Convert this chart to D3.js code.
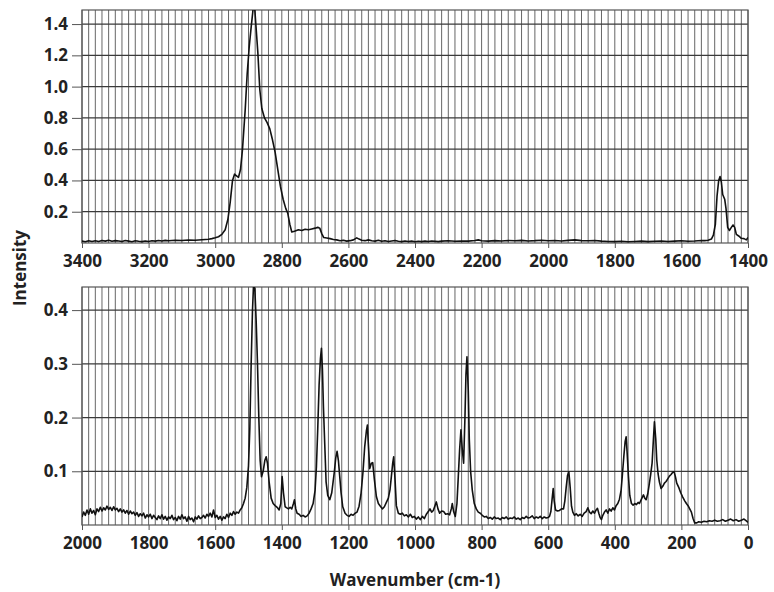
<!DOCTYPE html>
<html>
<head>
<meta charset="utf-8">
<script src="https://cdn.jsdelivr.net/npm/d3@7"></script>
<style>
    body { margin: 0; background: #fff; }
    svg { display: block; }
    .tick text { font-family: "Open Sans", sans-serif; font-weight: 700; font-size: 17px; fill: #222; }
    .label { font-family: "Open Sans", sans-serif; font-weight: 700; font-size: 17px; fill: #222; }
</style>
</head>
<body>
<svg></svg>
<script>
// tick labels for both panels
var topXTicks = [3400, 3200, 3000, 2800, 2600, 2400, 2200, 2000, 1800, 1600, 1400]
var topYTicks = [0.2, 0.4, 0.6, 0.8, 1.0, 1.2, 1.4]
var bottomXTicks = [2000, 1800, 1600, 1400, 1200, 1000, 800, 600, 400, 200, 0]
var bottomYTicks = [0.1, 0.2, 0.3, 0.4]

// upper panel: [wavenumber, intensity]
var topSpectrum = [
    [3400, 0.012], [3390, 0.008], [3380, 0.015], [3370, 0.010], [3360, 0.014], [3350, 0.009],
    [3340, 0.016], [3330, 0.012], [3320, 0.018], [3310, 0.011], [3300, 0.015], [3290, 0.013],
    [3280, 0.010], [3270, 0.016], [3260, 0.012], [3250, 0.008], [3240, 0.014], [3230, 0.011],
    [3220, 0.009], [3210, 0.013], [3200, 0.010], [3190, 0.014], [3180, 0.012], [3170, 0.016],
    [3160, 0.013], [3150, 0.017], [3140, 0.014], [3120, 0.018], [3100, 0.016], [3080, 0.019],
    [3060, 0.018], [3040, 0.021], [3020, 0.024], [3010, 0.028], [3000, 0.033], [2990, 0.040],
    [2980, 0.055], [2970, 0.085], [2962, 0.15], [2955, 0.26], [2948, 0.40], [2942, 0.44],
    [2936, 0.43], [2930, 0.42], [2924, 0.47], [2918, 0.60], [2910, 0.85], [2904, 1.08],
    [2898, 1.25], [2892, 1.38], [2886, 1.50], [2882, 1.52], [2878, 1.40], [2872, 1.22],
    [2866, 0.98], [2860, 0.86], [2852, 0.80], [2844, 0.77], [2836, 0.73], [2828, 0.66],
    [2820, 0.58], [2812, 0.47], [2804, 0.36], [2796, 0.28], [2788, 0.22], [2782, 0.19],
    [2776, 0.12], [2770, 0.07], [2762, 0.075], [2750, 0.085], [2740, 0.080], [2730, 0.088],
    [2720, 0.085], [2710, 0.090], [2700, 0.095], [2692, 0.10], [2686, 0.095], [2680, 0.06],
    [2674, 0.035], [2665, 0.032], [2655, 0.028], [2645, 0.022], [2635, 0.020], [2625, 0.014],
    [2615, 0.018], [2605, 0.012], [2595, 0.015], [2585, 0.020], [2575, 0.033], [2568, 0.025],
    [2560, 0.018], [2550, 0.015], [2540, 0.020], [2530, 0.014], [2520, 0.012], [2510, 0.017],
    [2500, 0.011], [2490, 0.014], [2480, 0.010], [2470, 0.013], [2460, 0.016], [2450, 0.011],
    [2440, 0.009], [2430, 0.013], [2420, 0.010], [2410, 0.012], [2400, 0.008], [2390, 0.011],
    [2380, 0.009], [2370, 0.012], [2360, 0.010], [2350, 0.013], [2340, 0.011], [2330, 0.009],
    [2320, 0.012], [2300, 0.014], [2280, 0.011], [2260, 0.013], [2240, 0.012], [2220, 0.016],
    [2210, 0.020], [2200, 0.014], [2180, 0.012], [2160, 0.015], [2140, 0.013], [2120, 0.016],
    [2100, 0.014], [2080, 0.017], [2060, 0.013], [2040, 0.015], [2020, 0.018], [2000, 0.014],
    [1980, 0.016], [1960, 0.013], [1940, 0.017], [1920, 0.020], [1900, 0.015], [1880, 0.014],
    [1860, 0.016], [1840, 0.012], [1820, 0.010], [1800, 0.009], [1780, 0.011], [1760, 0.008],
    [1740, 0.010], [1720, 0.012], [1700, 0.009], [1680, 0.011], [1660, 0.013], [1640, 0.010],
    [1620, 0.012], [1600, 0.014], [1580, 0.011], [1560, 0.013], [1540, 0.016], [1530, 0.015],
    [1520, 0.018], [1510, 0.025], [1504, 0.05], [1498, 0.12], [1493, 0.30], [1488, 0.40],
    [1484, 0.425], [1480, 0.39], [1476, 0.31], [1470, 0.28], [1466, 0.22], [1461, 0.10],
    [1456, 0.08], [1450, 0.10], [1445, 0.115], [1440, 0.10], [1435, 0.055], [1428, 0.045],
    [1420, 0.030], [1412, 0.028], [1405, 0.020], [1400, 0.035]
]

// lower panel: [wavenumber, intensity]
var bottomSpectrum = [
    [2000, 0.015], [1995, 0.024], [1990, 0.018], [1985, 0.028], [1980, 0.020], [1975, 0.030],
    [1970, 0.022], [1965, 0.027], [1960, 0.019], [1955, 0.030], [1950, 0.025], [1945, 0.033],
    [1940, 0.026], [1935, 0.032], [1930, 0.028], [1925, 0.035], [1920, 0.029], [1915, 0.033],
    [1910, 0.027], [1905, 0.034], [1900, 0.028], [1895, 0.031], [1890, 0.025], [1885, 0.030],
    [1880, 0.024], [1875, 0.028], [1870, 0.022], [1865, 0.027], [1860, 0.020], [1855, 0.026],
    [1850, 0.021], [1845, 0.024], [1840, 0.018], [1835, 0.023], [1830, 0.016], [1825, 0.021],
    [1820, 0.017], [1815, 0.022], [1810, 0.013], [1805, 0.019], [1800, 0.015], [1795, 0.020],
    [1790, 0.012], [1785, 0.018], [1780, 0.014], [1775, 0.010], [1770, 0.017], [1765, 0.012],
    [1760, 0.019], [1755, 0.011], [1750, 0.016], [1745, 0.009], [1740, 0.015], [1735, 0.012],
    [1730, 0.018], [1725, 0.010], [1720, 0.014], [1715, 0.008], [1710, 0.016], [1705, 0.011],
    [1700, 0.019], [1695, 0.012], [1690, 0.015], [1685, 0.007], [1680, 0.016], [1675, 0.010],
    [1670, 0.013], [1665, 0.006], [1660, 0.015], [1655, 0.011], [1650, 0.017], [1645, 0.012],
    [1640, 0.014], [1635, 0.018], [1630, 0.013], [1625, 0.020], [1620, 0.016], [1615, 0.022],
    [1610, 0.015], [1605, 0.028], [1600, 0.014], [1595, 0.018], [1590, 0.011], [1585, 0.016],
    [1580, 0.009], [1575, 0.015], [1570, 0.012], [1565, 0.020], [1560, 0.014], [1555, 0.022],
    [1550, 0.018], [1545, 0.025], [1540, 0.020], [1535, 0.024], [1530, 0.022], [1525, 0.028],
    [1520, 0.032], [1515, 0.040], [1510, 0.050], [1505, 0.070], [1500, 0.11], [1496, 0.18],
    [1492, 0.30], [1488, 0.40], [1485, 0.445], [1481, 0.44], [1477, 0.38], [1473, 0.30],
    [1469, 0.20], [1465, 0.12], [1461, 0.09], [1456, 0.10], [1451, 0.12], [1447, 0.127],
    [1443, 0.115], [1438, 0.08], [1432, 0.05], [1426, 0.04], [1420, 0.036], [1414, 0.033],
    [1408, 0.028], [1403, 0.040], [1399, 0.090], [1395, 0.06], [1390, 0.034], [1385, 0.032],
    [1380, 0.030], [1375, 0.033], [1370, 0.030], [1365, 0.040], [1362, 0.047], [1358, 0.030],
    [1354, 0.022], [1348, 0.020], [1342, 0.016], [1336, 0.018], [1330, 0.015], [1324, 0.017],
    [1318, 0.022], [1312, 0.030], [1306, 0.040], [1300, 0.065], [1296, 0.109], [1292, 0.18],
    [1288, 0.26], [1284, 0.31], [1281, 0.329], [1278, 0.29], [1275, 0.22], [1271, 0.15],
    [1267, 0.08], [1262, 0.055], [1256, 0.047], [1250, 0.060], [1246, 0.080], [1242, 0.10],
    [1238, 0.125], [1234, 0.137], [1230, 0.120], [1226, 0.090], [1222, 0.06], [1217, 0.034],
    [1210, 0.022], [1204, 0.018], [1198, 0.016], [1192, 0.020], [1186, 0.018], [1180, 0.022],
    [1174, 0.024], [1168, 0.035], [1162, 0.059], [1156, 0.10], [1151, 0.146], [1146, 0.175],
    [1143, 0.186], [1140, 0.15], [1136, 0.105], [1131, 0.115], [1127, 0.116], [1122, 0.085],
    [1116, 0.053], [1110, 0.040], [1104, 0.035], [1098, 0.030], [1092, 0.034], [1086, 0.042],
    [1080, 0.050], [1075, 0.066], [1071, 0.090], [1067, 0.115], [1064, 0.127], [1060, 0.085],
    [1056, 0.036], [1050, 0.022], [1044, 0.020], [1038, 0.022], [1032, 0.017], [1026, 0.019],
    [1020, 0.015], [1014, 0.020], [1008, 0.014], [1002, 0.016], [996, 0.011], [990, 0.015],
    [984, 0.010], [978, 0.016], [972, 0.012], [966, 0.020], [960, 0.025], [955, 0.030],
    [950, 0.024], [945, 0.027], [940, 0.036], [936, 0.043], [931, 0.030], [926, 0.022],
    [920, 0.026], [914, 0.025], [908, 0.020], [902, 0.021], [896, 0.019], [891, 0.030],
    [888, 0.040], [884, 0.025], [879, 0.016], [874, 0.040], [870, 0.090], [866, 0.14],
    [862, 0.177], [858, 0.14], [854, 0.115], [850, 0.20], [847, 0.28], [844, 0.313],
    [840, 0.25], [837, 0.16], [833, 0.10], [828, 0.065], [822, 0.040], [816, 0.030],
    [810, 0.024], [804, 0.022], [798, 0.018], [792, 0.015], [786, 0.016], [780, 0.012],
    [774, 0.014], [768, 0.011], [762, 0.015], [756, 0.012], [750, 0.013], [744, 0.010],
    [738, 0.014], [732, 0.012], [726, 0.015], [720, 0.011], [714, 0.013], [708, 0.012],
    [702, 0.015], [696, 0.011], [690, 0.013], [684, 0.010], [678, 0.014], [672, 0.012],
    [666, 0.016], [660, 0.013], [654, 0.014], [648, 0.017], [642, 0.012], [636, 0.015],
    [630, 0.013], [624, 0.016], [618, 0.012], [612, 0.015], [606, 0.013], [600, 0.014],
    [596, 0.016], [592, 0.025], [588, 0.050], [585, 0.068], [582, 0.045], [578, 0.028],
    [572, 0.026], [566, 0.027], [560, 0.030], [554, 0.030], [550, 0.045], [546, 0.070],
    [542, 0.092], [538, 0.099], [534, 0.070], [530, 0.035], [526, 0.024], [521, 0.018],
    [516, 0.021], [510, 0.017], [504, 0.020], [498, 0.016], [492, 0.022], [486, 0.025],
    [481, 0.032], [476, 0.024], [471, 0.021], [466, 0.026], [461, 0.022], [456, 0.028],
    [452, 0.031], [448, 0.022], [444, 0.014], [440, 0.010], [436, 0.018], [431, 0.024],
    [426, 0.028], [421, 0.022], [416, 0.030], [411, 0.026], [406, 0.032], [401, 0.028],
    [396, 0.036], [391, 0.040], [386, 0.048], [381, 0.065], [377, 0.095], [373, 0.127],
    [369, 0.155], [366, 0.164], [363, 0.135], [359, 0.090], [355, 0.055], [350, 0.040],
    [345, 0.037], [340, 0.040], [335, 0.038], [330, 0.042], [326, 0.040], [320, 0.048],
    [314, 0.056], [310, 0.050], [306, 0.047], [301, 0.058], [296, 0.078], [292, 0.095],
    [288, 0.115], [284, 0.160], [281, 0.192], [277, 0.160], [274, 0.121], [270, 0.095],
    [266, 0.080], [261, 0.068], [256, 0.072], [251, 0.078], [246, 0.081], [241, 0.086],
    [236, 0.091], [231, 0.094], [226, 0.098], [222, 0.099], [218, 0.090], [214, 0.078],
    [208, 0.070], [202, 0.060], [196, 0.052], [190, 0.045], [185, 0.040], [180, 0.036],
    [175, 0.030], [170, 0.024], [165, 0.012], [160, 0.004], [154, 0.004], [148, 0.006],
    [140, 0.005], [132, 0.007], [124, 0.006], [116, 0.008], [108, 0.007], [100, 0.009],
    [92, 0.007], [84, 0.008], [76, 0.010], [68, 0.007], [60, 0.009], [52, 0.011],
    [44, 0.008], [36, 0.010], [28, 0.007], [20, 0.009], [12, 0.011], [6, 0.008], [0, 0.005]
]

var screen = { width: 774, height: 592 }

var makeTranslateString = function (x, y) {
    return "translate(" + x + "," + y + ")";
}

//panel holds the box in pixels plus domains and ticks
var drawPanel = function (svg, panel, spectrum) {
    var w = panel.right - panel.left
    var h = panel.bottom - panel.top

    var xScale = d3.scaleLinear()
        .domain(panel.xDomain)
        .range([0, w])

    var yScale = d3.scaleLinear()
        .domain(panel.yDomain)
        .range([h, 0])

    var g = svg.append("g")
        .attr("transform", makeTranslateString(panel.left, panel.top))

    g.append("clipPath")
        .attr("id", panel.id)
        .append("rect")
        .attr("width", w)
        .attr("height", h)

    //minor vertical grid every 20 cm-1
    var minor = d3.range(panel.xDomain[1], panel.xDomain[0] + 1, 20)
    g.append("g")
        .selectAll("line")
        .data(minor)
        .enter()
        .append("line")
        .attr("x1", function (d) { return xScale(d) })
        .attr("x2", function (d) { return xScale(d) })
        .attr("y1", 0)
        .attr("y2", h)
        .attr("stroke", "#666")
        .attr("stroke-width", 1)

    //horizontal grid at the labelled values
    g.append("g")
        .selectAll("line")
        .data(panel.yTicks)
        .enter()
        .append("line")
        .attr("x1", 0)
        .attr("x2", w)
        .attr("y1", function (d) { return yScale(d) })
        .attr("y2", function (d) { return yScale(d) })
        .attr("stroke", "#3a3a3a")
        .attr("stroke-width", 1.2)

    g.append("rect")
        .attr("width", w)
        .attr("height", h)
        .attr("fill", "none")
        .attr("stroke", "#555")
        .attr("stroke-width", 1.2)

    var lineGenerator = d3.line()
        .x(function (d) { return xScale(d[0]) })
        .y(function (d) { return yScale(d[1]) })

    g.append("path")
        .datum(spectrum)
        .attr("clip-path", "url(#" + panel.id + ")")
        .attr("fill", "none")
        .attr("stroke", "#111")
        .attr("stroke-width", 1.6)
        .attr("stroke-linejoin", "round")
        .attr("d", lineGenerator)

    var xAxis = d3.axisBottom(xScale)
        .tickValues(panel.xTicks)
        .tickFormat(d3.format("d"))
        .tickSizeInner(5)
        .tickSizeOuter(0)
        .tickPadding(7)

    var yAxis = d3.axisLeft(yScale)
        .tickValues(panel.yTicks)
        .tickFormat(d3.format(".1f"))
        .tickSizeInner(10)
        .tickSizeOuter(0)
        .tickPadding(4)

    var xg = g.append("g")
        .attr("transform", makeTranslateString(0, h))
        .call(xAxis)
    var yg = g.append("g")
        .call(yAxis)

    xg.select(".domain").remove()
    yg.select(".domain").remove()
    xg.selectAll(".tick line").attr("stroke", "#555")
    yg.selectAll(".tick line").attr("stroke", "#555")
}

var svg = d3.select("svg")
    .attr("width", screen.width)
    .attr("height", screen.height)

drawPanel(svg, {
    id: "clipTop",
    left: 82, right: 748, top: 10, bottom: 243,
    xDomain: [3400, 1400], yDomain: [0, 1.49],
    xTicks: topXTicks, yTicks: topYTicks
}, topSpectrum)

drawPanel(svg, {
    id: "clipBottom",
    left: 82, right: 748, top: 287, bottom: 525,
    xDomain: [2000, 0], yDomain: [0, 0.443],
    xTicks: bottomXTicks, yTicks: bottomYTicks
}, bottomSpectrum)

var labels = svg.append("g")

labels.append("text")
    .classed("label", true)
    .attr("text-anchor", "middle")
    .attr("x", 415)
    .attr("y", 586)
    .text("Wavenumber (cm-1)")

labels.append("text")
    .classed("label", true)
    .attr("text-anchor", "middle")
    .attr("transform", makeTranslateString(26, 268) + " rotate(-90)")
    .text("Intensity")
</script>
</body>
</html>
